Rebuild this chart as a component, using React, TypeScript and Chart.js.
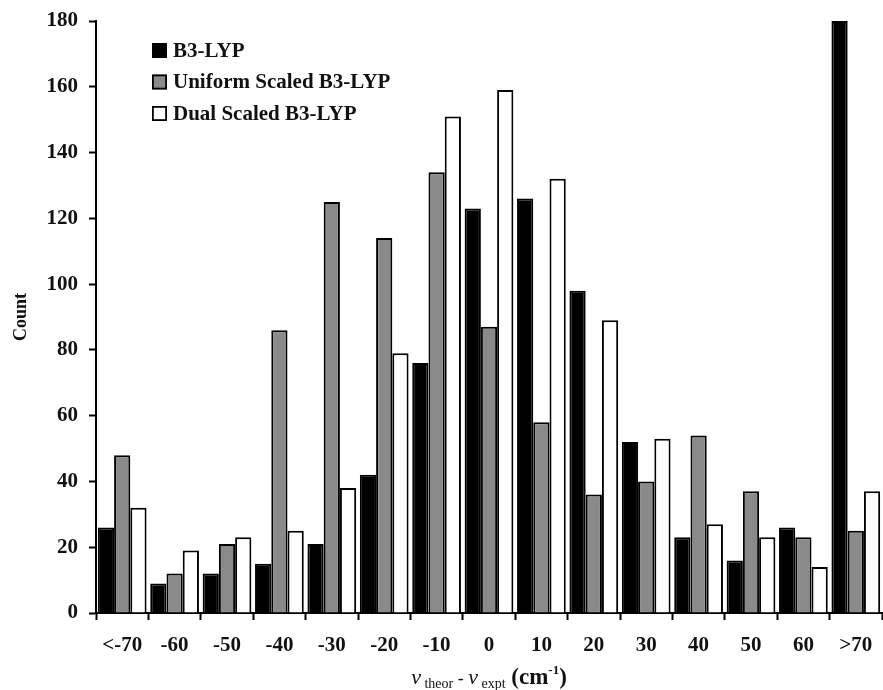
import React, { useEffect, useRef } from "react";
import { Chart, registerables } from "chart.js";

Chart.register(...registerables);

const categories = ["<-70", "-60", "-50", "-40", "-30", "-20", "-10", "0", "10", "20", "30", "40", "50", "60", ">70"];
const b3lyp = [26, 9, 12, 15, 21, 42, 76, 123, 126, 98, 52, 23, 16, 26, 180];
const uniformScaled = [48, 12, 21, 86, 125, 114, 134, 87, 58, 36, 40, 54, 37, 23, 25];
const dualScaled = [32, 19, 23, 25, 38, 79, 151, 159, 132, 89, 53, 27, 23, 14, 37];
const seriesNames = ["B3-LYP", "Uniform Scaled B3-LYP", "Dual Scaled B3-LYP"];
const yTicks = [0, 20, 40, 60, 80, 100, 120, 140, 160, 180];

const FILLS = ["#000000", "#8a8a8a", "#ffffff"];
const SERIF = '"Liberation Serif", "Times New Roman", serif';

const legendPlugin = {
  id: "customLegend",
  afterDraw(chart: any) {
    const ctx = chart.ctx;
    ctx.save();
    const x0 = 152;
    const rows = [50.5, 82, 113.5];
    seriesNames.forEach((name, i) => {
      const cy = rows[i];
      ctx.fillStyle = FILLS[i];
      ctx.fillRect(x0, cy - 7.5, 15, 15);
      ctx.strokeStyle = "#000";
      ctx.lineWidth = 1.8;
      ctx.strokeRect(x0 + 0.9, cy - 6.6, 13.2, 13.2);
      ctx.fillStyle = "#111";
      ctx.font = `bold 21px ${SERIF}`;
      ctx.textBaseline = "middle";
      ctx.textAlign = "left";
      ctx.fillText(name, x0 + 21, cy + 1);
    });
    ctx.restore();
  },
};

const xTitlePlugin = {
  id: "xTitle",
  afterDraw(chart: any) {
    const ctx = chart.ctx;
    const area = chart.chartArea;
    const base = 684;
    const pieces = [
      { t: "\u03bd", f: `italic 22px ${SERIF}`, dy: 0 },
      { t: " theor", f: `14px ${SERIF}`, dy: 4 },
      { t: " - ", f: `18px ${SERIF}`, dy: 0 },
      { t: "\u03bd", f: `italic 22px ${SERIF}`, dy: 0 },
      { t: " expt", f: `14px ${SERIF}`, dy: 4 },
      { t: " (cm", f: `bold 23px ${SERIF}`, dy: 0 },
      { t: "-1", f: `bold 13px ${SERIF}`, dy: -10 },
      { t: ")", f: `bold 23px ${SERIF}`, dy: 0 },
    ];
    ctx.save();
    let total = 0;
    const widths = pieces.map((p) => {
      ctx.font = p.f;
      const w = ctx.measureText(p.t).width;
      total += w;
      return w;
    });
    let x = (area.left + area.right) / 2 - total / 2;
    ctx.fillStyle = "#111";
    ctx.textBaseline = "alphabetic";
    ctx.textAlign = "left";
    pieces.forEach((p, i) => {
      ctx.font = p.f;
      ctx.fillText(p.t, x, base + p.dy);
      x += widths[i];
    });
    ctx.restore();
  },
};

export default function App() {
  const ref = useRef<HTMLCanvasElement | null>(null);
  useEffect(() => {
    if (!ref.current) return;
    const chart = new Chart(ref.current, {
      type: "bar",
      data: {
        labels: categories,
        datasets: [
          { label: seriesNames[0], data: b3lyp, backgroundColor: FILLS[0], borderColor: "#000", borderWidth: 2 },
          { label: seriesNames[1], data: uniformScaled, backgroundColor: FILLS[1], borderColor: "#000", borderWidth: 2 },
          { label: seriesNames[2], data: dualScaled, backgroundColor: FILLS[2], borderColor: "#000", borderWidth: 2 },
        ],
      },
      options: {
        responsive: false,
        animation: false,
        layout: { padding: { left: 0, right: 1, top: 21, bottom: 0 } },
        datasets: { bar: { categoryPercentage: 0.93, barPercentage: 1.0 } },
        plugins: {
          legend: { display: false },
          tooltip: { enabled: false },
          title: { display: false },
        },
        scales: {
          x: {
            grid: {
              display: true,
              drawOnChartArea: false,
              drawTicks: true,
              tickLength: 7,
              tickWidth: 2,
              tickColor: "#000",
              offset: true,
            },
            border: { display: true, color: "#000", width: 2 },
            ticks: {
              color: "#111",
              font: { family: SERIF, size: 21, weight: "bold" },
              padding: 13,
              maxRotation: 0,
              autoSkip: false,
            },
            afterFit: (s: any) => {
              s.height = 77;
              s.paddingLeft = 0;
              s.paddingRight = 0;
            },
          },
          y: {
            min: 0,
            max: 180,
            afterBuildTicks: (s: any) => {
              s.ticks = yTicks.map((v) => ({ value: v }));
            },
            grid: {
              display: true,
              drawOnChartArea: false,
              drawTicks: true,
              tickLength: 7,
              tickWidth: 2,
              tickColor: "#000",
            },
            border: { display: true, color: "#000", width: 2 },
            ticks: {
              color: "#111",
              font: { family: SERIF, size: 21, weight: "bold" },
              padding: 11,
            },
            title: {
              display: true,
              text: "Count",
              color: "#111",
              font: { family: SERIF, size: 18, weight: "bold" },
              padding: { top: 11, bottom: 2 },
            },
            afterFit: (s: any) => {
              s.width = 96;
              s.paddingTop = 0;
              s.paddingBottom = 0;
            },
          },
        },
      },
      plugins: [legendPlugin, xTitlePlugin],
    });
    return () => chart.destroy();
  }, []);
  return (
    <div style={{ position: "absolute", left: 0, top: 0, width: 883, height: 690, background: "#fff" }}>
      <canvas ref={ref} width={883} height={690} />
    </div>
  );
}
